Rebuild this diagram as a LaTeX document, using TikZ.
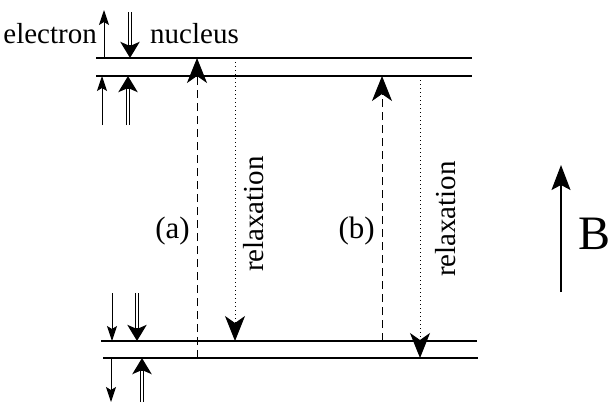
\documentclass[tikz,border=0pt]{standalone}
\usepackage{fontspec}
\setmainfont{Liberation Serif}
\usetikzlibrary{arrows.meta}
\tikzset{
  level/.style={line width=1.8pt},
  espin/.style={line width=1pt,-{Stealth[length=15pt,width=10pt,inset=3pt]}},
  nspin/.style={line width=3.8pt,-{Stealth[length=16pt,width=19pt,inset=4pt]},
    postaction={draw=white,line width=2pt,-,shorten >=13pt}},
  pump/.style={line width=1pt,dash pattern=on 8pt off 5pt,-{Stealth[length=25pt,width=20pt,inset=7pt]}},
  relax/.style={line width=1pt,dash pattern=on 1pt off 3pt,-{Stealth[length=25pt,width=20pt,inset=7pt]}},
  field/.style={line width=1.3pt,-{Stealth[length=25pt,width=19pt,inset=5pt]}},
  lbl/.style={inner sep=0pt,font=\fontsize{29}{32}\selectfont}
}
\begin{document}
\begin{tikzpicture}[x=1pt,y=-1pt]
  \useasboundingbox (0,0) rectangle (612,402);
  % energy levels
  \coordinate (T1l) at (96,58);   \coordinate (T1r) at (472,58);
  \coordinate (T2l) at (96,76);   \coordinate (T2r) at (472,76);
  \coordinate (B1l) at (101,341); \coordinate (B1r) at (477,341);
  \coordinate (B2l) at (103,358); \coordinate (B2r) at (478,358);
  \draw[level] (T1l) -- (T1r);
  \draw[level] (T2l) -- (T2r);
  \draw[level] (B1l) -- (B1r);
  \draw[level] (B2l) -- (B2r);
  % spins
  \coordinate (eT1) at (104,10);  \coordinate (nT1) at (130,12);
  \coordinate (eT2) at (102,125); \coordinate (nT2) at (128,125);
  \coordinate (eB1) at (112,293); \coordinate (nB1) at (137,293);
  \coordinate (eB2) at (111,402); \coordinate (nB2) at (142,402);
  \draw[espin] (eT1 |- T1l) -- (eT1);
  \draw[nspin] (nT1) -- (nT1 |- T1l);
  \draw[espin] (eT2) -- (eT2 |- T2l);
  \draw[nspin] (nT2) -- (nT2 |- T2l);
  \draw[espin] (eB1) -- (eB1 |- B1l);
  \draw[nspin] (nB1) -- (nB1 |- B1l);
  \draw[espin] (eB2 |- B2l) -- (eB2);
  \draw[nspin] (nB2) -- (nB2 |- B2l);
  \node[lbl,anchor=base east] (electron) at (97,43) {electron};
  \node[lbl,anchor=base west] (nucleus) at (150,43) {nucleus};
  % transitions
  \coordinate (a) at (197,0);  \coordinate (ra) at (235,0);
  \coordinate (b) at (382,0);  \coordinate (rb) at (420,0);
  \draw[pump] (a |- B2l) -- (a |- T1l);
  \draw[relax] (ra |- T1l) -- (ra |- B1l);
  \draw[pump] (b |- B1l) -- (b |- T2l);
  \draw[relax] (rb |- T2l) -- (rb |- B2l);
  \node[lbl,font=\fontsize{31}{34}\selectfont,anchor=base east] (la) at (190,238) {(a)};
  \node[lbl,font=\fontsize{31}{34}\selectfont,anchor=base east] (lb) at (375,238) {(b)};
  \node[lbl,rotate=90,anchor=base] (rla) at (263,214) {relaxation};
  \node[lbl,rotate=90,anchor=base] (rlb) at (455,219) {relaxation};
  % field
  \coordinate (F0) at (561,292); \coordinate (F1) at (561,165);
  \draw[field] (F0) -- (F1);
  \node[lbl,font=\fontsize{48}{52}\selectfont,anchor=base west] (B) at (578,249) {B};
\end{tikzpicture}
\end{document}
